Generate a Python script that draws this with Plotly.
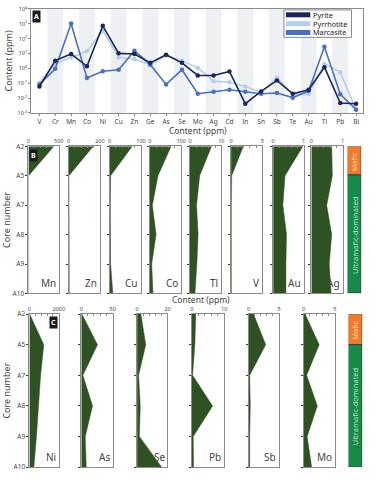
import plotly.graph_objects as go

# ---------------- data ----------------
elements = ["V", "Cr", "Mn", "Co", "Ni", "Cu", "Zn", "Ge", "As", "Se", "Mo",
            "Ag", "Cd", "In", "Sn", "Sb", "Te", "Au", "Tl", "Pb", "Bi"]
log_pyrite = [-1.22, 0.52, 0.97, 0.14, 2.86, 1.01, 0.97, 0.37, 0.92, 0.37, -0.48,
              -0.48, -0.21, -2.38, -1.55, -0.81, -1.71, -1.44, 0.08, -2.33, -2.38]
log_pyrrhotite = [-0.99, 0.30, 0.75, 1.15, 2.53, 0.75, 0.63, 0.23, 0.86, 0.52, 0.03,
                  -0.86, -0.93, -1.22, -1.60, -0.64, -1.75, -1.71, 0.30, -0.26, -2.78]
log_marcasite = [-1.08, -0.03, 3.02, -0.64, -0.19, -0.10, 1.19, 0.25, -1.08, -0.10, -1.71,
                 -1.57, -1.44, -1.57, -1.71, -1.66, -1.97, -1.53, 1.46, -1.75, -2.78]
pyrite = [10 ** v for v in log_pyrite]
pyrrhotite = [10 ** v for v in log_pyrrhotite]
marcasite = [10 ** v for v in log_marcasite]
minerals = ["Pyrite", "Pyrrhotite", "Marcasite"]

cores = ["A2", "A5", "A7", "A8", "A9", "A10"]

b_elements = ["Mn", "Zn", "Cu", "Co", "Tl", "V", "Au", "Ag"]
b_max = [500, 200, 100, 100, 10, 5, 1, 1]
b_Mn = [420, 2, 2, 2, 2, 3]
b_Zn = [158, 2, 3, 3, 3, 4]
b_Cu = [72, 3, 2, 2, 3, 10]
b_Co = [68, 26, 8, 20, 6, 10]
b_Tl = [6.9, 3.1, 2.1, 2.6, 2.2, 1.6]
b_V = [1.95, 0.1, 0.05, 0.05, 0.05, 0.05]
b_Au = [0.98, 0.39, 0.32, 0.44, 0.42, 0.42]
b_Ag = [0.65, 0.67, 0.49, 0.65, 0.57, 0.63]
b_values = [b_Mn, b_Zn, b_Cu, b_Co, b_Tl, b_V, b_Au, b_Ag]

c_elements = ["Ni", "As", "Se", "Pb", "Sb", "Mo"]
c_max = [2000, 50, 20, 10, 5, 5]
c_Ni = [20, 978, 760, 630, 480, 300]
c_As = [1, 25.8, 2.6, 17.9, 6.3, 7.9]
c_Se = [2.5, 5.7, 1.0, 2.1, 1.5, 16.2]
c_Pb = [1.2, 0.9, 0.2, 6.4, 0.4, 0.5]
c_Sb = [0.8, 2.8, 0.16, 0.26, 0.16, 0.16]
c_Mo = [0.26, 2.5, 0.5, 2.2, 0.58, 1.3]
c_values = [c_Ni, c_As, c_Se, c_Pb, c_Sb, c_Mo]

litho_names = ["Mafic", "Ultramafic-dominated"]
litho_start = [0, 1]   # index in cores
litho_end = [1, 5]

# ---------------- style ----------------
W, H = 380, 480
FONT = "Noto Sans"
GRAY = "#8a8a8a"
TXT = "#444444"
FILL = "#2f5223"
C_PY = "#1c2759"
C_PO = "#b3cfee"
C_MC = "#4870c0"
C_MAF = "#ef7b2a"
C_UM = "#168a48"
mineral_colors = {"Pyrite": C_PY, "Pyrrhotite": C_PO, "Marcasite": C_MC}


def px(x):
    return x / W


def py(y):
    return 1 - y / H


fig = go.Figure()
layout = dict(
    width=W, height=H, margin=dict(l=0, r=0, t=0, b=0),
    paper_bgcolor="white", plot_bgcolor="white",
    font=dict(family=FONT, color=TXT, size=7),
    showlegend=False,
)
annotations = []
shapes = []

# ---------------- Panel A ----------------
for name, vals in [("Pyrrhotite", pyrrhotite), ("Marcasite", marcasite), ("Pyrite", pyrite)]:
    col = mineral_colors[name]
    fig.add_trace(go.Scatter(x=elements, y=vals, mode="lines+markers", name=name,
                             line=dict(color=col, width=1.6),
                             marker=dict(color=col, size=4.5),
                             xaxis="x", yaxis="y"))

layout["xaxis"] = dict(domain=[px(30), px(369)], anchor="y", type="category",
                       categoryorder="array", categoryarray=elements,
                       range=[-0.51, 20.45], showline=True, mirror=True,
                       linecolor=GRAY, linewidth=1, ticks="outside", ticklen=2,
                       tickcolor=GRAY, tickfont=dict(size=6.5), showgrid=False)
layout["yaxis"] = dict(domain=[py(110), py(4)], anchor="x", type="log",
                       range=[-3, 4], tickvals=[10 ** k for k in range(-3, 5)],
                       ticktext=[f"10<sup>{k}</sup>" for k in range(-3, 5)],
                       tickfont=dict(size=5.5), showline=True, mirror=True,
                       linecolor=GRAY, linewidth=1, ticks="outside", ticklen=2,
                       tickcolor=GRAY, showgrid=False,
                       title=dict(text="Content (ppm)", font=dict(size=9), standoff=3))
for i in range(1, len(elements), 2):
    shapes.append(dict(type="rect", xref="x", yref="y domain", x0=i - 0.5, x1=i + 0.5,
                       y0=0, y1=1, fillcolor="#eef0f4", line=dict(width=0), layer="below"))

# compact legend (box, swatches, labels)
shapes.append(dict(type="rect", xref="paper", yref="paper", x0=px(288), x1=px(357),
                   y0=py(33), y1=py(5), fillcolor="white", line=dict(color=GRAY, width=1),
                   layer="above"))
for k, name in enumerate(minerals):
    yc = 10 + 9 * k
    shapes.append(dict(type="line", xref="paper", yref="paper", x0=px(290), x1=px(315),
                       y0=py(yc), y1=py(yc), line=dict(color=mineral_colors[name], width=5),
                       layer="above"))
    annotations.append(dict(text=name, xref="paper", yref="paper", x=px(316), y=py(yc),
                            xanchor="left", yanchor="middle", showarrow=False,
                            font=dict(size=7.3, color="#222")))

annotations.append(dict(text="<b>A</b>", xref="paper", yref="paper", x=px(31), y=py(5),
                        xanchor="left", yanchor="top", showarrow=False,
                        font=dict(color="white", size=7), bgcolor="#1a1a1a", borderpad=1))
annotations.append(dict(text="Content (ppm)", xref="paper", yref="paper", x=px(200), y=py(128),
                        xanchor="center", yanchor="middle", showarrow=False,
                        font=dict(size=8.5)))
annotations.append(dict(text="Content (ppm)", xref="paper", yref="paper", x=px(203), y=py(300.5),
                        xanchor="center", yanchor="middle", showarrow=False,
                        font=dict(size=8.5)))

ypos = list(range(len(cores)))


def strip_panel(ax_start, names, maxes, values, xdoms, ydom, letter, letter_pos):
    n = ax_start
    for k, (nm, mx, vals, xd) in enumerate(zip(names, maxes, values, xdoms)):
        xa, ya = f"x{n}", f"y{n}"
        fig.add_trace(go.Scatter(x=vals, y=ypos, mode="lines", fill="tozerox",
                                 fillcolor=FILL, line=dict(color=FILL, width=0.5),
                                 xaxis=xa, yaxis=ya, hoverinfo="skip"))
        layout[f"xaxis{n}"] = dict(domain=[px(xd[0]), px(xd[1])], anchor=ya, side="top",
                                   range=[0, mx], tickvals=[0, mx],
                                   ticktext=["0", f"{mx:g}"],
                                   ticks="inside", ticklen=2, tickcolor=GRAY,
                                   minor=dict(ticks="inside", ticklen=1.5, tickcolor=GRAY,
                                              tick0=0, dtick=mx / 5),
                                   tickfont=dict(size=5.5), showline=True, mirror=True,
                                   linecolor=GRAY, linewidth=1, showgrid=False,
                                   zeroline=False, ticklabelstandoff=0)
        layout[f"yaxis{n}"] = dict(domain=ydom, anchor=xa, range=[len(cores) - 1, 0],
                                   tickvals=ypos, ticktext=cores, showticklabels=(k == 0),
                                   ticks="outside", ticklen=2, tickcolor="#333",
                                   tickfont=dict(size=6.5), showline=True, mirror=True,
                                   linecolor=GRAY, linewidth=1, showgrid=False,
                                   zeroline=False)
        if k == 0:
            layout[f"yaxis{n}"]["title"] = dict(text="Core number", font=dict(size=9), standoff=2)
        annotations.append(dict(text=nm, xref=f"{xa} domain", yref=f"{ya} domain",
                                x=0.97, y=0.01, xanchor="right", yanchor="bottom",
                                showarrow=False, font=dict(size=10, color=TXT)))
        n += 1
    annotations.append(dict(text=f"<b>{letter}</b>", xref=f"x{ax_start} domain",
                            yref=f"y{ax_start} domain", x=letter_pos[0], y=letter_pos[1],
                            xanchor=letter_pos[2], yanchor="top", showarrow=False,
                            font=dict(color="white", size=7), bgcolor="#1a1a1a", borderpad=1))
    return n


def litho_panel(n, xd, ydom):
    xa, ya = f"x{n}", f"y{n}"
    cols = [C_MAF, C_UM]
    fig.add_trace(go.Bar(x=[0, 0], y=[e - s for s, e in zip(litho_start, litho_end)],
                         base=litho_start, marker=dict(color=cols, line=dict(color="#333", width=0.8)),
                         width=1, xaxis=xa, yaxis=ya, hoverinfo="skip"))
    layout[f"xaxis{n}"] = dict(domain=[px(xd[0]), px(xd[1])], anchor=ya, range=[-0.5, 0.5],
                               visible=False)
    layout[f"yaxis{n}"] = dict(domain=ydom, anchor=xa, range=[len(cores) - 1, 0], visible=False)
    txtcols = ["#fbd9bd", "#bfe5cc"]
    for nm, s, e, tc in zip(litho_names, litho_start, litho_end, txtcols):
        annotations.append(dict(text=nm, xref=xa, yref=ya, x=0, y=(s + e) / 2,
                                textangle=-90, showarrow=False,
                                font=dict(size=7.5, color=tc)))


b_xd = [(27, 58), (68, 100), (110, 142), (151, 183), (192, 224), (234, 266), (277, 308), (316, 348)]
b_yd = [py(294), py(144)]
n = strip_panel(2, b_elements, b_max, b_values, b_xd, b_yd, "B", (0.02, 0.985, "left"))
litho_panel(n, (353, 367), b_yd)
n += 1

c_xd = [(28, 58), (81, 113), (138, 169), (194, 227), (252, 283), (308, 340)]
c_yd = [py(471), py(315)]
n2 = strip_panel(n, c_elements, c_max, c_values, c_xd, c_yd, "C", (0.97, 0.985, "right"))
litho_panel(n2, (354, 368), c_yd)

layout["annotations"] = annotations
layout["shapes"] = shapes
layout["bargap"] = 0
fig.update_layout(**layout)
fig.write_html("out.html", config={"displayModeBar": False},
               post_script="document.body.style.margin='0';")
